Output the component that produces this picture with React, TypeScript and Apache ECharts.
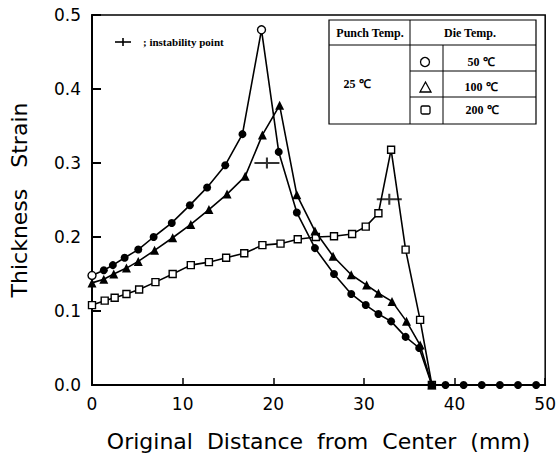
import React, { useEffect, useRef } from "react";
import * as echarts from "echarts";

// 50 °C die temperature (circles)
const xCircle = [0, 1.3, 2.3, 3.6, 5.1, 6.8, 8.8, 10.8, 12.7, 14.7, 16.6, 18.7, 20.6, 22.6, 24.6, 26.7, 28.6, 30.2, 31.6, 33.0, 34.6, 36.1, 37.5, 39, 41, 43, 45, 47, 49];
const yCircle = [0.148, 0.155, 0.162, 0.172, 0.183, 0.2, 0.219, 0.243, 0.267, 0.297, 0.339, 0.48, 0.315, 0.233, 0.185, 0.15, 0.123, 0.108, 0.096, 0.086, 0.065, 0.05, 0, 0, 0, 0, 0, 0, 0];

// 100 °C die temperature (triangles)
const xTriangle = [0, 1.3, 2.4, 3.8, 5.1, 6.9, 8.9, 10.9, 12.9, 14.9, 16.9, 18.8, 20.7, 22.6, 24.6, 26.6, 28.6, 30.3, 31.6, 33.1, 34.7, 36.2, 37.5];
const yTriangle = [0.138, 0.143, 0.15, 0.158, 0.167, 0.182, 0.199, 0.217, 0.237, 0.258, 0.282, 0.338, 0.378, 0.257, 0.208, 0.174, 0.149, 0.135, 0.124, 0.113, 0.086, 0.054, 0];

// 200 °C die temperature (squares)
const xSquare = [0, 1.4, 2.5, 3.8, 5.2, 7.0, 8.9, 10.9, 12.9, 14.8, 16.8, 18.8, 20.8, 22.7, 24.7, 26.7, 28.7, 30.2, 31.6, 33.0, 34.6, 36.2, 37.5];
const ySquare = [0.108, 0.114, 0.118, 0.123, 0.129, 0.139, 0.15, 0.162, 0.166, 0.172, 0.178, 0.189, 0.191, 0.197, 0.2, 0.201, 0.204, 0.214, 0.232, 0.318, 0.183, 0.088, 0];

// instability points
const xInstability = [19.3, 32.8];
const yInstability = [0.3, 0.251];

const xTicks = [0, 10, 20, 30, 40, 50];
const yTicks = [0, 0.1, 0.2, 0.3, 0.4, 0.5];

const punchTemp = "25 \u2103";
const dieTemps = ["50 \u2103", "100 \u2103", "200 \u2103"];

const openCircleIdx = [0, 11];

export default function App() {
  const ref = useRef<HTMLDivElement>(null);
  useEffect(() => {
    const chart = echarts.init(ref.current!, null, { renderer: "svg" });
    const lineStyle = { color: "#000", width: 1.6 };
    const sans = "DejaVu Sans";
    const serif = "Liberation Serif";
    const openStyle = { color: "#fff", borderColor: "#000", borderWidth: 1.4 };

    const tableX = 329, tableY = 20, tableW = 207, tableH = 104;
    const colA = 410, colB = 443;
    const rowH = 45, row2 = 71, row3 = 97;
    const lineEl = (x1: number, y1: number, x2: number, y2: number, w = 1) => ({
      type: "line",
      shape: { x1, y1, x2, y2 },
      style: { stroke: "#000", lineWidth: w },
    });
    const txt = (x: number, y: number, text: string, size = 12) => ({
      type: "text",
      x,
      y,
      style: {
        text,
        fill: "#000",
        font: `bold ${size}px "${serif}"`,
        align: "center",
        verticalAlign: "middle",
      },
    });

    chart.setOption({
      animation: false,
      backgroundColor: "#fff",
      grid: {
        left: 88.5,
        right: 13,
        top: 15,
        bottom: 72,
        show: true,
        borderColor: "#000",
        borderWidth: 1.5,
      },
      xAxis: {
        type: "value",
        min: xTicks[0],
        max: xTicks[xTicks.length - 1],
        interval: 10,
        axisLine: { lineStyle: { color: "#000", width: 2 } },
        axisTick: { inside: true, length: 7, lineStyle: { color: "#000", width: 1.5 } },
        axisLabel: { color: "#000", fontSize: 17, fontFamily: sans, margin: 10 },
        splitLine: { show: false },
        name: "Original\u00A0 Distance\u00A0 from\u00A0 Center\u00A0 (mm)",
        nameLocation: "middle",
        nameGap: 45,
        nameTextStyle: { color: "#000", fontSize: 22, fontFamily: sans },
      },
      yAxis: {
        type: "value",
        min: yTicks[0],
        max: yTicks[yTicks.length - 1],
        interval: 0.1,
        axisLine: { lineStyle: { color: "#000", width: 2 } },
        axisTick: { inside: true, length: 9, lineStyle: { color: "#000", width: 2 } },
        axisLabel: {
          color: "#000",
          fontSize: 17,
          fontFamily: sans,
          margin: 11,
          formatter: (v: number) => v.toFixed(1),
        },
        splitLine: { show: false },
        name: "Thickness\u00A0\u00A0 Strain",
        nameLocation: "middle",
        nameGap: 62,
        nameTextStyle: { color: "#000", fontSize: 22, fontFamily: sans },
      },
      series: [
        {
          type: "line",
          data: xSquare.map((x, i) => [x, ySquare[i]]),
          symbol: "rect",
          symbolSize: 7,
          itemStyle: openStyle,
          lineStyle,
          z: 2,
        },
        {
          type: "line",
          data: xTriangle.map((x, i) => [x, yTriangle[i]]),
          symbol: "triangle",
          symbolSize: 9,
          itemStyle: { color: "#000" },
          lineStyle,
          z: 3,
        },
        {
          type: "line",
          data: xCircle.map((x, i) =>
            openCircleIdx.includes(i)
              ? { value: [x, yCircle[i]], itemStyle: openStyle }
              : [x, yCircle[i]]
          ),
          symbol: "circle",
          symbolSize: 8,
          itemStyle: { color: "#000" },
          lineStyle,
          z: 4,
        },
        {
          type: "scatter",
          data: xInstability.map((x, i) => [x, yInstability[i]]),
          symbol: "path://M0,4h24v2h-24z M11,0h2v10h-2z",
          symbolSize: [25, 11],
          itemStyle: { color: "#000" },
          z: 5,
        },
      ],
      graphic: [
        // instability legend
        lineEl(115, 42, 131, 42, 1.6),
        lineEl(123, 38, 123, 46, 1.6),
        {
          type: "text",
          x: 143,
          y: 42,
          style: {
            text: "; instability point",
            fill: "#000",
            font: `bold 11px "${serif}"`,
            align: "left",
            verticalAlign: "middle",
          },
        },
        // table
        {
          type: "rect",
          shape: { x: tableX, y: tableY, width: tableW, height: tableH },
          style: { fill: "#fff", stroke: "#000", lineWidth: 1.2 },
        },
        lineEl(tableX, rowH, tableX + tableW, rowH),
        lineEl(colA, tableY, colA, tableY + tableH),
        lineEl(colB, rowH, colB, tableY + tableH),
        lineEl(colA, row2, tableX + tableW, row2),
        lineEl(colA, row3, tableX + tableW, row3),
        txt(370, 33, "Punch Temp."),
        txt(470, 33, "Die Temp."),
        txt(357, 84, punchTemp),
        txt(481, 62, dieTemps[0]),
        txt(481, 87, dieTemps[1]),
        txt(482, 110, dieTemps[2]),
        {
          type: "circle",
          shape: { cx: 425, cy: 62, r: 4.5 },
          style: { fill: "#fff", stroke: "#000", lineWidth: 1.3 },
        },
        {
          type: "polygon",
          shape: { points: [[420, 92], [431, 92], [425.5, 82]] },
          style: { fill: "#fff", stroke: "#000", lineWidth: 1.3 },
        },
        {
          type: "rect",
          shape: { x: 421, y: 106, width: 9, height: 8, r: 1.5 },
          style: { fill: "#fff", stroke: "#000", lineWidth: 1.3 },
        },
      ],
    });
    return () => chart.dispose();
  }, []);
  return (
    <div
      ref={ref}
      style={{ position: "fixed", left: 0, top: 0, width: 559, height: 457 }}
    />
  );
}
